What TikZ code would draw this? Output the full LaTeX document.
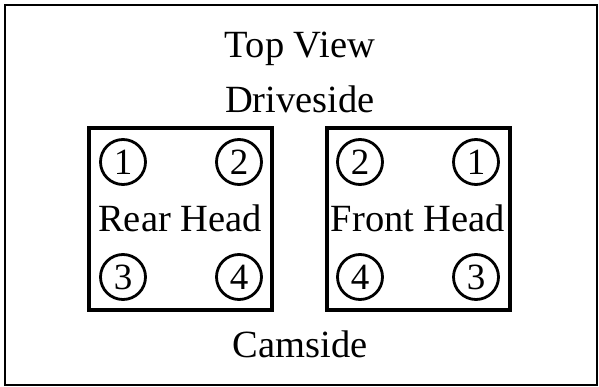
\documentclass[tikz,border=0pt]{standalone}
\usepackage{fontspec}
\setmainfont{Liberation Serif}
\tikzset{
  lbl/.style = {inner sep=0pt, font=\fontsize{38.5}{40}\selectfont},
  headbox/.style = {draw, line width=4pt, inner sep=0pt, minimum width=183pt, minimum height=182pt},
  cyl/.style = {draw, circle, line width=2.8pt, inner sep=0pt, minimum size=45pt, font=\fontsize{37}{40}\selectfont}
}
\begin{document}
\begin{tikzpicture}[x=1pt,y=-1pt]
      \useasboundingbox (0,0) rectangle (599,387);
      % frame
      \draw[line width=2.5pt] (5,5) rectangle (597,385);
      % titles
      \node[lbl] at (300,49) (top) {Top View};
      \node[lbl] at (300,99) (drive) {Driveside};
      \node[lbl] at (300,344) (cam) {Camside};
      % rear head
      \node[headbox] at (180.5,219) (rear) {};
      \node[lbl] at (180,218) (rearlbl) {Rear Head};
      \node[cyl] at (123,162) (R1) {1};
      \node[cyl] at (239,162) (R2) {2};
      \node[cyl] at (123,277) (R3) {3};
      \node[cyl] at (239,277) (R4) {4};
      % front head
      \node[headbox] at (418,219) (front) {};
      \node[lbl] at (418,218) (frontlbl) {Front Head};
      \node[cyl] at (360,162) (F2) {2};
      \node[cyl] at (476,162) (F1) {1};
      \node[cyl] at (360,277) (F4) {4};
      \node[cyl] at (476,277) (F3) {3};
\end{tikzpicture}
\end{document}
